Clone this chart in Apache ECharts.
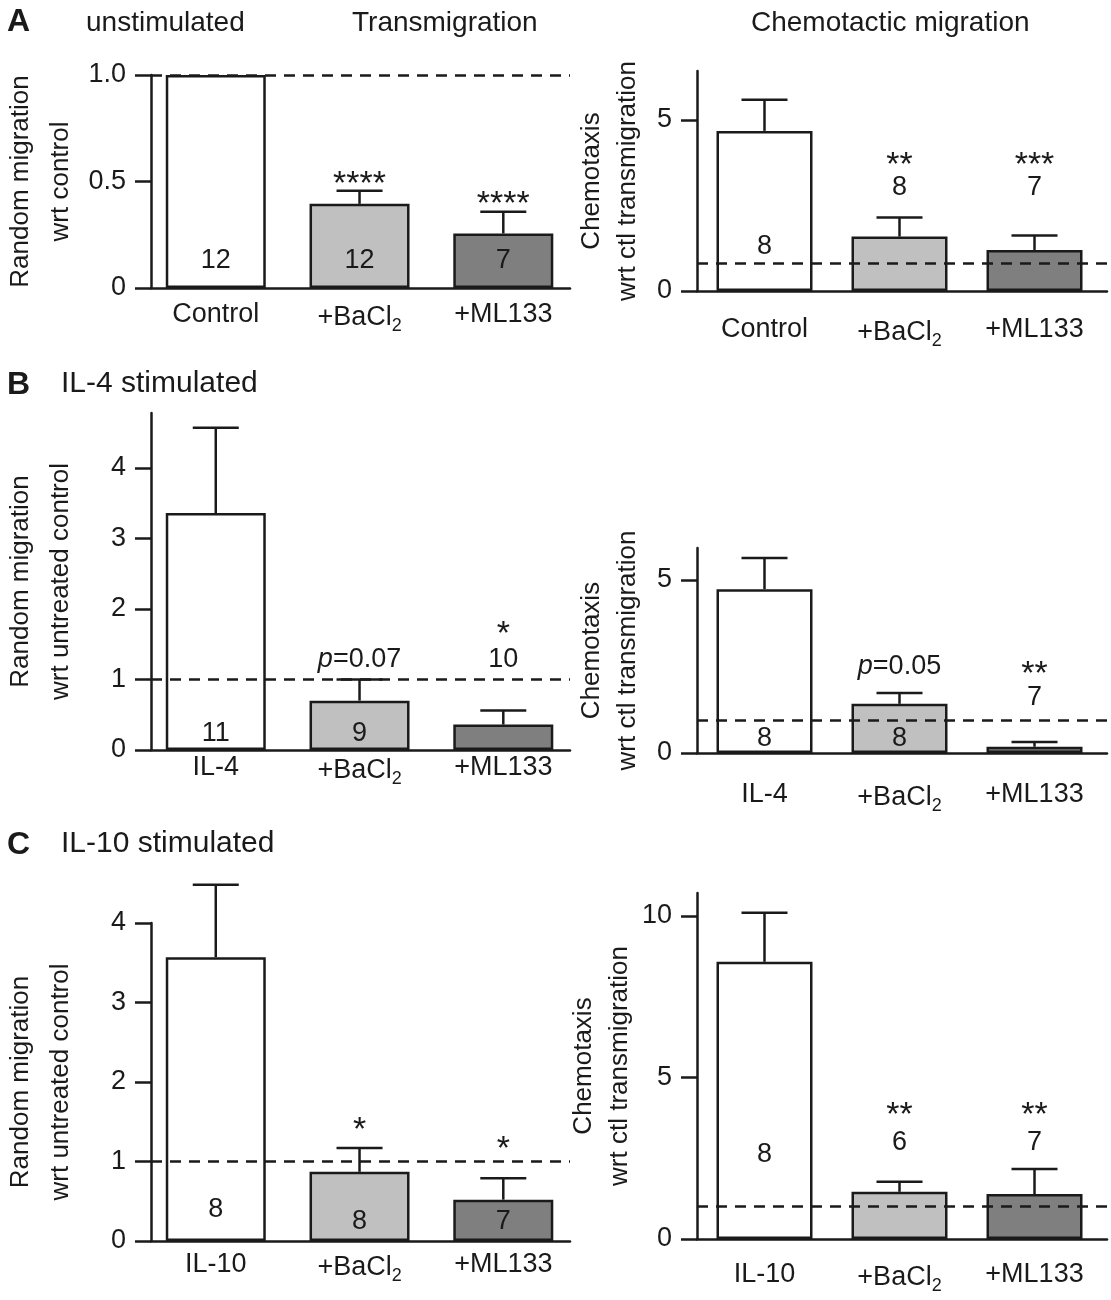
<!DOCTYPE html>
<html>
<head>
<meta charset="utf-8">
<script src="https://cdn.jsdelivr.net/npm/echarts@6/dist/echarts.min.js"></script>
<style>
  html, body { margin: 0; padding: 0; background: #fff; }
  #chart { width: 1111px; height: 1300px; }
</style>
</head>
<body>
<div id="chart"></div>
<script>
// ---- data ----
// A: unstimulated
const catsA = ['Control', '+BaCl2', '+ML133'];
const randomA = [1.0, 0.395, 0.256];
const randomAErr = [0, 0.061, 0.102];
const randomAN = ['12', '12', '7'];
const randomASig = ['', '****', '****'];
const chemoA = [4.68, 1.59, 1.2];
const chemoAErr = [0.91, 0.56, 0.42];
const chemoAN = ['8', '8', '7'];
const chemoASig = ['', '**', '***'];
const chemoARef = 0.8;

// B: IL-4 stimulated
const catsB = ['IL-4', '+BaCl2', '+ML133'];
const randomB = [3.36, 0.70, 0.36];
const randomBErr = [1.21, 0.30, 0.20];
const randomBN = ['11', '9', '10'];
const randomBSig = ['', 'p=0.07', '*'];
const chemoB = [4.73, 1.42, 0.18];
const chemoBErr = [0.90, 0.31, 0.14];
const chemoBN = ['8', '8', '7'];
const chemoBSig = ['', 'p=0.05', '**'];
const chemoBRef = 0.95;

// C: IL-10 stimulated
const catsC = ['IL-10', '+BaCl2', '+ML133'];
const randomC = [3.57, 0.87, 0.52];
const randomCErr = [0.91, 0.30, 0.27];
const randomCN = ['8', '8', '7'];
const randomCSig = ['', '*', '*'];
const chemoC = [8.58, 1.46, 1.39];
const chemoCErr = [1.52, 0.31, 0.78];
const chemoCN = ['8', '6', '7'];
const chemoCSig = ['', '**', '**'];
const chemoCRef = 1.0;

// tick values / labels
const ticksRandomA = [0, 0.5, 1.0];
const tickTextRandomA = ['0', '0.5', '1.0'];
const ticksRandom = [0, 1, 2, 3, 4];
const tickTextRandom = ['0', '1', '2', '3', '4'];
const ticksChemo = [0, 5];
const tickTextChemo = ['0', '5'];
const ticksChemoC = [0, 5, 10];
const tickTextChemoC = ['0', '5', '10'];

// ---- styling ----
const FONT = '"Liberation Sans", Arial, sans-serif';
const INK = '#1a1a1a';
const FILLS = ['#ffffff', '#c0c0c0', '#7f7f7f'];
const LW = 2.5;

const LEFT = { left: 143, width: 427, min: 0.5495, max: 3.464, barWidth: 100 };
const RIGHT = { left: 697, width: 410, min: 0.5, max: 3.537, barWidth: 96 };

const nameRandom = 'Random migration\nwrt untreated control';
const nameChemo = 'Chemotaxis\nwrt ctl transmigration';

const panels = [
  { ...LEFT, top: 75, height: 213, yMax: 1.0, ticks: ticksRandomA, tickText: tickTextRandomA,
    cats: catsA, mean: randomA, err: randomAErr, n: randomAN, sig: randomASig, ref: 1.0,
    name: 'Random migration\nwrt control', nameGap: 70, nameLH: 40, xMargin: 13,
    nY: [0.13, 0.13, 0.13], sigY: [0, 0.486, 0.392] },
  { ...RIGHT, top: 71, height: 220, yMax: 6.43, ticks: ticksChemo, tickText: tickTextChemo,
    cats: catsA, mean: chemoA, err: chemoAErr, n: chemoAN, sig: chemoASig, ref: chemoARef,
    name: nameChemo, nameGap: 51, nameLH: 36, xMargin: 25,
    nY: [1.29, 3.01, 3.01], sigY: [0, 3.67, 3.67] },
  { ...LEFT, top: 413, height: 337, yMax: 4.78, ticks: ticksRandom, tickText: tickTextRandom,
    cats: catsB, mean: randomB, err: randomBErr, n: randomBN, sig: randomBSig, ref: 1.0,
    name: nameRandom, nameGap: 70, nameLH: 40, xMargin: 4,
    nY: [0.24, 0.24, 1.28], sigY: [0, 1.29, 1.64] },
  { ...RIGHT, top: 548, height: 205, yMax: 5.92, ticks: ticksChemo, tickText: tickTextChemo,
    cats: catsB, mean: chemoB, err: chemoBErr, n: chemoBN, sig: chemoBSig, ref: chemoBRef,
    name: nameChemo, nameGap: 51, nameLH: 36, xMargin: 28,
    nY: [0.43, 0.43, 1.59], sigY: [0, 2.51, 2.27] },
  { ...LEFT, top: 923, height: 318, yMax: 4, ticks: ticksRandom, tickText: tickTextRandom,
    cats: catsC, mean: randomC, err: randomCErr, n: randomCN, sig: randomCSig, ref: 1.0,
    name: nameRandom, nameGap: 70, nameLH: 40, xMargin: 10,
    nY: [0.39, 0.24, 0.24], sigY: [0, 1.39, 1.15] },
  { ...RIGHT, top: 893, height: 346, yMax: 10.71, ticks: ticksChemoC, tickText: tickTextChemoC,
    cats: catsC, mean: chemoC, err: chemoCErr, n: chemoCN, sig: chemoCSig, ref: chemoCRef,
    name: nameChemo, nameGap: 51, nameLH: 36, xMargin: 22,
    nY: [2.6, 3.0, 3.0], sigY: [0, 3.82, 3.82] }
];

const subRich = {
  sub: { fontFamily: FONT, fontSize: 18, color: INK, padding: [16, 0, 0, 0] }
};
const textRich = {
  i: { fontFamily: FONT, fontSize: 27, fontStyle: 'italic', color: INK }
};

const grids = [], xAxes = [], yAxes = [], series = [];

panels.forEach((p, idx) => {
  grids.push({ left: p.left, top: p.top, width: p.width, height: p.height });

  xAxes.push({
    gridIndex: idx, type: 'value', min: p.min, max: p.max,
    axisLine: { show: true, onZero: false, lineStyle: { color: INK, width: LW } },
    axisTick: { show: false }, splitLine: { show: false },
    axisLabel: {
      customValues: [1, 2, 3], margin: p.xMargin,
      fontFamily: FONT, fontSize: 27, color: INK,
      formatter: v => p.cats[Math.round(v) - 1].replace(/2$/, '{sub|2}'),
      rich: subRich
    }
  });

  yAxes.push({
    gridIndex: idx, type: 'value', min: 0, max: p.yMax,
    axisLine: { show: true, lineStyle: { color: INK, width: LW } },
    axisTick: { show: true, length: 16, customValues: p.ticks, lineStyle: { color: INK, width: LW } },
    axisLabel: {
      customValues: p.ticks, margin: 25, fontFamily: FONT, fontSize: 27, color: INK,
      formatter: v => p.tickText[p.ticks.indexOf(v)]
    },
    splitLine: { show: false },
    name: p.name, nameLocation: 'middle', nameRotate: 90, nameGap: p.nameGap,
    nameTextStyle: { fontFamily: FONT, fontSize: 26, color: INK, lineHeight: p.nameLH }
  });

  series.push({
    type: 'bar', xAxisIndex: idx, yAxisIndex: idx, barWidth: p.barWidth,
    data: p.mean.map((m, i) => [i + 1, m]),
    itemStyle: { color: d => FILLS[d.dataIndex], borderColor: INK, borderWidth: LW },
    markLine: {
      silent: true, symbol: 'none', label: { show: false },
      lineStyle: { color: INK, width: LW, type: [11, 8] },
      data: [{ yAxis: p.ref }]
    },
    z: 2
  });

  const errData = p.mean.map((m, i) => [i + 1, m, m + p.err[i]]).filter((d, i) => p.err[i] > 0);
  series.push({
    type: 'custom', xAxisIndex: idx, yAxisIndex: idx, clip: false, z: 3,
    data: errData,
    renderItem: (params, api) => {
      const x = api.value(0);
      const lo = api.coord([x, api.value(1)]);
      const hi = api.coord([x, api.value(2)]);
      const cap = 46;
      const st = { stroke: INK, lineWidth: LW };
      return {
        type: 'group', children: [
          { type: 'line', shape: { x1: lo[0], y1: lo[1], x2: hi[0], y2: hi[1] }, style: st },
          { type: 'line', shape: { x1: hi[0] - cap / 2, y1: hi[1], x2: hi[0] + cap / 2, y2: hi[1] }, style: st }
        ]
      };
    }
  });

  // n values and significance marks
  const labels = [];
  p.n.forEach((t, i) => labels.push({ x: i + 1, y: p.nY[i], text: t, star: false }));
  p.sig.forEach((t, i) => {
    if (!t) return;
    const isStar = t.indexOf('*') === 0;
    labels.push({ x: i + 1, y: p.sigY[i], text: isStar ? t : t.replace('p', '{i|p}'), star: isStar });
  });
  series.push({
    type: 'custom', xAxisIndex: idx, yAxisIndex: idx, clip: false, z: 4,
    data: labels.map(l => [l.x, l.y]),
    renderItem: (params, api) => {
      const l = labels[params.dataIndex];
      const pt = api.coord([api.value(0), api.value(1)]);
      return {
        type: 'text', x: pt[0], y: pt[1],
        style: {
          text: l.text, fill: INK, fontFamily: FONT, fontSize: l.star ? 34 : 27,
          align: 'center', verticalAlign: 'middle', rich: textRich
        }
      };
    }
  });
});

const titleStyle = { fontFamily: FONT, fontSize: 28, fontWeight: 'normal', color: INK };
const letterStyle = { fontFamily: FONT, fontSize: 32, fontWeight: 'bold', color: INK };

const option = {
  animation: false,
  backgroundColor: '#fff',
  title: [
    { text: 'A', left: 7, top: 6, padding: 0, textStyle: letterStyle },
    { text: 'unstimulated', left: 86, top: 9, padding: 0, textStyle: titleStyle },
    { text: 'Transmigration', left: 352, top: 9, padding: 0, textStyle: titleStyle },
    { text: 'Chemotactic migration', left: 751, top: 9, padding: 0, textStyle: titleStyle },
    { text: 'B', left: 7, top: 369, padding: 0, textStyle: letterStyle },
    { text: 'IL-4 stimulated', left: 61, top: 369, padding: 0, textStyle: { ...titleStyle, fontSize: 30 } },
    { text: 'C', left: 7, top: 829, padding: 0, textStyle: letterStyle },
    { text: 'IL-10 stimulated', left: 61, top: 829, padding: 0, textStyle: { ...titleStyle, fontSize: 30 } }
  ],
  grid: grids,
  xAxis: xAxes,
  yAxis: yAxes,
  series: series
};

const chart = echarts.init(document.getElementById('chart'));
chart.setOption(option);
</script>
</body>
</html>
